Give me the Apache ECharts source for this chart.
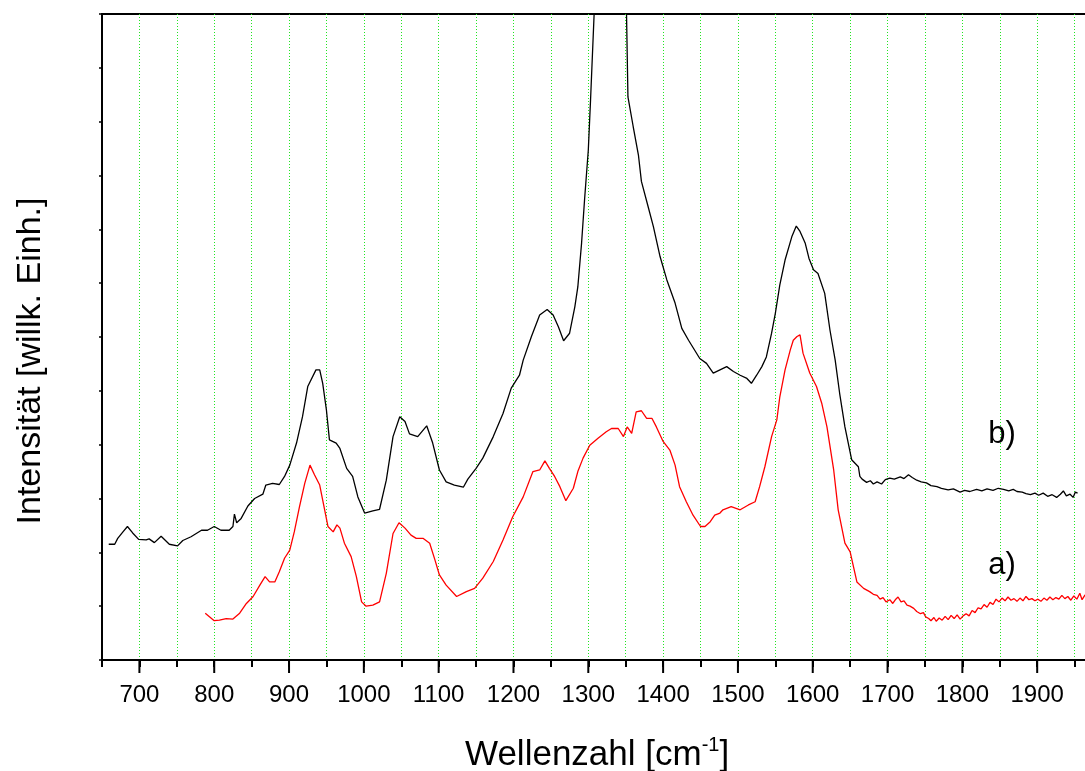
<!DOCTYPE html>
<html>
<head>
<meta charset="utf-8">
<script src="https://cdn.jsdelivr.net/npm/echarts@6/dist/echarts.min.js"></script>
<style>
  html, body { margin: 0; padding: 0; background: #fff; }
  #chart { width: 1085px; height: 771px; }
</style>
</head>
<body>
<div id="chart"></div>
<script>
// Raman spectra, wavenumber in cm^-1, intensity in arbitrary units (offset traces)
const wnB = [659,667,671,678,684,691,699,709,713,720,729,740,751,758,769,783,791,800,809,820,825,827,830,836,845,854,865,869,878,887,894,901,910,918,925,936,941,945,950,954,963,968,977,985,992,1001,1012,1021,1030,1039,1048,1055,1061,1072,1084,1092,1101,1110,1121,1133,1139,1150,1159,1173,1186,1197,1208,1213,1224,1235,1245,1253,1260,1267,1275,1282,1286,1291,1295,1300,1303,1308,1330,1351,1353,1360,1367,1371,1380,1387,1396,1405,1416,1425,1434,1449,1458,1467,1476,1485,1494,1503,1512,1518,1525,1532,1538,1545,1550,1556,1563,1572,1578,1583,1590,1595,1601,1607,1616,1623,1630,1636,1643,1652,1661,1663,1666,1672,1677,1681,1686,1692,1697,1703,1709,1717,1722,1728,1733,1739,1745,1752,1758,1766,1772,1781,1788,1797,1803,1810,1819,1826,1833,1841,1848,1855,1862,1868,1873,1880,1885,1891,1897,1902,1908,1914,1920,1926,1931,1935,1939,1944,1948,1951,1954];
const intB = [2.15,2.15,2.26,2.38,2.48,2.36,2.24,2.23,2.25,2.18,2.30,2.15,2.12,2.22,2.29,2.41,2.41,2.48,2.41,2.41,2.48,2.71,2.55,2.63,2.86,3.00,3.08,3.25,3.28,3.26,3.41,3.62,4.03,4.52,5.08,5.39,5.39,5.14,4.64,4.09,4.03,3.93,3.56,3.41,3.03,2.73,2.77,2.80,3.34,4.15,4.52,4.43,4.20,4.15,4.35,4.03,3.53,3.31,3.25,3.21,3.36,3.56,3.75,4.15,4.58,5.05,5.29,5.57,6.01,6.41,6.51,6.41,6.19,5.93,6.07,6.56,6.93,7.74,8.55,9.47,10.40,12.07,23.4,12.07,10.46,9.91,9.38,8.89,8.42,8.05,7.49,7.06,6.63,6.16,5.94,5.60,5.51,5.33,5.39,5.45,5.36,5.29,5.23,5.14,5.29,5.45,5.63,6.07,6.44,6.97,7.43,7.86,8.06,7.96,7.74,7.46,7.25,7.18,6.81,6.13,5.57,4.95,4.33,3.72,3.59,3.41,3.36,3.30,3.33,3.27,3.31,3.27,3.35,3.38,3.36,3.40,3.37,3.44,3.39,3.34,3.31,3.29,3.24,3.22,3.19,3.16,3.18,3.12,3.15,3.13,3.17,3.14,3.18,3.15,3.19,3.17,3.14,3.17,3.13,3.12,3.09,3.07,3.10,3.06,3.10,3.04,3.07,3.02,3.08,3.14,3.05,3.08,3.02,3.12,3.10];

const wnA = [788,794,800,807,816,825,834,843,852,861,868,874,881,887,894,901,907,914,921,928,934,941,945,952,959,964,968,974,983,990,997,1003,1012,1021,1030,1039,1047,1055,1063,1070,1079,1088,1095,1101,1110,1124,1137,1148,1159,1173,1186,1199,1213,1226,1235,1242,1248,1255,1262,1270,1280,1286,1293,1302,1313,1324,1331,1340,1347,1352,1358,1364,1371,1378,1385,1391,1400,1409,1416,1422,1431,1440,1450,1456,1463,1469,1476,1480,1491,1503,1514,1523,1529,1536,1545,1552,1556,1563,1570,1574,1579,1583,1587,1596,1605,1612,1619,1628,1634,1643,1650,1659,1668,1676,1681,1686,1690,1694,1698,1703,1707,1711,1714,1718,1722,1726,1730,1735,1739,1744,1748,1751,1755,1758,1762,1765,1769,1773,1777,1781,1785,1789,1793,1797,1801,1805,1809,1813,1817,1821,1825,1829,1833,1837,1841,1845,1849,1853,1857,1861,1865,1869,1873,1877,1881,1885,1889,1893,1897,1901,1905,1909,1913,1917,1921,1925,1929,1933,1937,1941,1945,1949,1953,1957,1960,1964];
const intA = [0.87,0.80,0.73,0.74,0.77,0.76,0.87,1.05,1.18,1.39,1.55,1.45,1.45,1.64,1.89,2.04,2.38,2.85,3.28,3.62,3.44,3.25,2.97,2.48,2.38,2.51,2.45,2.17,1.92,1.55,1.08,1.00,1.02,1.08,1.61,2.35,2.55,2.45,2.32,2.26,2.26,2.17,1.86,1.58,1.39,1.18,1.27,1.33,1.52,1.83,2.23,2.66,3.03,3.50,3.53,3.70,3.56,3.41,3.22,2.96,3.19,3.50,3.75,3.99,4.12,4.24,4.30,4.30,4.15,4.33,4.21,4.61,4.63,4.49,4.49,4.33,4.06,3.90,3.62,3.22,2.94,2.69,2.48,2.48,2.57,2.69,2.73,2.79,2.85,2.79,2.88,2.94,3.22,3.59,4.15,4.46,4.89,5.39,5.76,5.94,6.01,6.04,5.70,5.33,5.08,4.77,4.33,3.53,2.79,2.17,2.01,1.45,1.33,1.27,1.22,1.20,1.13,1.16,1.08,1.12,1.05,1.13,1.17,1.08,1.10,1.02,1.00,0.96,0.90,0.86,0.88,0.80,0.77,0.73,0.79,0.72,0.78,0.74,0.81,0.75,0.83,0.77,0.84,0.76,0.82,0.86,0.82,0.92,0.88,0.97,0.95,1.03,0.98,1.07,1.03,1.13,1.08,1.15,1.10,1.17,1.11,1.14,1.09,1.15,1.10,1.18,1.12,1.14,1.10,1.13,1.09,1.15,1.11,1.17,1.12,1.16,1.13,1.20,1.14,1.18,1.11,1.19,1.13,1.24,1.12,1.21];

// axis ranges, major tick positions and tick labels
const xMin = 650, xMax = 2000;
const majorTicks = [700,800,900,1000,1100,1200,1300,1400,1500,1600,1700,1800,1900,2000];
const tickLabels = ['700','800','900','1000','1100','1200','1300','1400','1500','1600','1700','1800','1900'];
const yMin = 0, yMax = 12;

const FONT = 'Liberation Sans, Arial, sans-serif';
const pairs = (xs, ys) => xs.map((x, i) => [x, ys[i]]);

const chart = echarts.init(document.getElementById('chart'), null, { renderer: 'canvas' });
chart.setOption({
  animation: false,
  backgroundColor: '#fff',
  grid: {
    left: 102, top: 14, bottom: 111, right: -27,
    show: true, borderColor: '#000', borderWidth: 2,
    outerBoundsMode: 'none', containLabel: false
  },
  xAxis: {
    // ticks every 50 with the dotted grid
    type: 'value', min: xMin, max: xMax, interval: 50,
    axisLine: { show: true, onZero: false, lineStyle: { color: '#000', width: 2 } },
    axisTick: { show: true, length: 7, lineStyle: { color: '#000', width: 2 } },
    axisLabel: { show: false },
    splitLine: { show: true, lineStyle: { color: '#22e622', width: 1, type: [1, 2] } }
  },
  yAxis: {
    type: 'value', min: yMin, max: yMax, interval: 1,
    axisLine: { show: true, onZero: false, lineStyle: { color: '#000', width: 2 } },
    axisTick: { show: true, length: 3, lineStyle: { color: '#000', width: 1.5 } },
    axisLabel: { show: false },
    splitLine: { show: false }
  },
  series: [{
    name: 'b)', type: 'line', data: pairs(wnB, intB),
    showSymbol: false, symbol: 'none', clip: true,
    lineStyle: { color: '#000', width: 1.3 }
  }, {
    name: 'a)', type: 'line', data: pairs(wnA, intA),
    showSymbol: false, symbol: 'none', clip: true,
    lineStyle: { color: '#ff0000', width: 1.3 }
  }]
});

// longer ticks and the numbers on the hundreds, placed through the x axis scale
const yBase = chart.convertToPixel({ yAxisIndex: 0 }, yMin);
const majorTickMarks = majorTicks.map(v => {
  const px = chart.convertToPixel({ xAxisIndex: 0 }, v);
  return {
    type: 'line', silent: true, z: 100,
    shape: { x1: px, y1: yBase, x2: px, y2: yBase + 13 },
    style: { stroke: '#000', lineWidth: 2 }
  };
});
const tickLabelTexts = tickLabels.map(t => ({
  type: 'text', silent: true, z: 100,
  x: chart.convertToPixel({ xAxisIndex: 0 }, Number(t)),
  y: yBase + 35,
  style: { text: t, fontSize: 24, fontFamily: FONT, fill: '#000', textAlign: 'center', textVerticalAlign: 'middle' }
}));

chart.setOption({
  graphic: majorTickMarks.concat(tickLabelTexts, [{
    type: 'text', x: 465, y: 755,
    style: {
      text: '{a|Wellenzahl [cm}{s|-1}{a|]}',
      textAlign: 'left', textVerticalAlign: 'middle',
      rich: {
        a: { fontSize: 35, fontFamily: FONT, fill: '#000', lineHeight: 40 },
        s: { fontSize: 20, fontFamily: FONT, fill: '#000', verticalAlign: 'top', lineHeight: 20 }
      }
    }
  }, {
    type: 'text', x: 31, y: 361, rotation: Math.PI / 2,
    style: {
      text: 'Intensität [willk. Einh.]', fontSize: 34, fontFamily: FONT, fill: '#000',
      textAlign: 'center', textVerticalAlign: 'middle'
    }
  }, {
    type: 'text', x: 1002, y: 434,
    style: { text: 'b)', fontSize: 31, fontFamily: FONT, fill: '#000', textAlign: 'center', textVerticalAlign: 'middle' }
  }, {
    type: 'text', x: 1002, y: 565,
    style: { text: 'a)', fontSize: 31, fontFamily: FONT, fill: '#000', textAlign: 'center', textVerticalAlign: 'middle' }
  }])
});
</script>
</body>
</html>
